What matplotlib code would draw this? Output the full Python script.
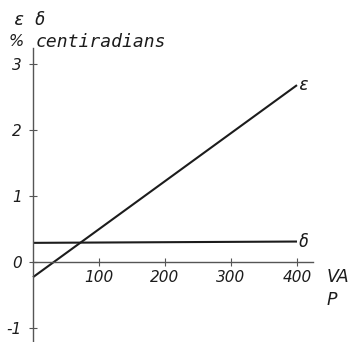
import matplotlib
matplotlib.use("Agg")
import matplotlib.pyplot as plt

# Apparent power P in VA, and the errors in % / centiradians
va = [0, 400]
epsilon = [-0.23, 2.68]
delta = [0.29, 0.31]

x_ticks = [100, 200, 300, 400]
x_tick_labels = ["100", "200", "300", "400"]
y_ticks = [-1, 0, 1, 2, 3]
y_tick_labels = ["-1", "0", "1", "2", "3"]

W, H = 353, 342
fig = plt.figure(figsize=(W / 100, H / 100), dpi=100)
ax = fig.add_axes([0, 0, 1, 1])

# pixel mapping: x_px = 33 + 0.66 * P ; y_px(from top) = 262 - 66 * value
ax.set_xlim(-33 / 0.66, (W - 33) / 0.66)
ax.set_ylim((262 - H) / 66, 262 / 66)

ink = "#1c1c1c"
axis_c = "#555555"
sans = dict(family="DejaVu Sans", style="oblique", color=ink)
mono = dict(family="DejaVu Sans Mono", style="oblique", color=ink)

ax.plot(va, epsilon, color=ink, lw=1.5, solid_capstyle="butt")
ax.plot(va, delta, color=ink, lw=1.5, solid_capstyle="butt")

for s in ("top", "right"):
    ax.spines[s].set_visible(False)
ax.spines["left"].set_position(("data", 0))
ax.spines["bottom"].set_position(("data", 0))
ax.spines["left"].set_bounds((262 - H) / 66, (262 - 48) / 66)
ax.spines["bottom"].set_bounds(0, (313 - 33) / 0.66)
for s in ("left", "bottom"):
    ax.spines[s].set_color(axis_c)
    ax.spines[s].set_linewidth(1.0)

ax.set_xticks(x_ticks)
ax.set_xticklabels(x_tick_labels)
ax.set_yticks(y_ticks)
ax.set_yticklabels(y_tick_labels)
ax.tick_params(direction="inout", length=6, width=0.8, color=axis_c)
ax.tick_params(axis="x", pad=3)
ax.tick_params(axis="y", pad=5)
for lab in ax.get_xticklabels() + ax.get_yticklabels():
    lab.set_family("DejaVu Sans")
    lab.set_fontstyle("oblique")
    lab.set_fontsize(11)
    lab.set_color(ink)
ax.patch.set_alpha(0)

# curve labels
ax.text(402, epsilon[-1], "ε", fontsize=12, va="center", ha="left", **mono)
ax.text(402, delta[-1], "δ", fontsize=12, va="center", ha="left", **mono)

# axis titles
ax.text(327 / W, 1 - 277 / H, "VA", transform=fig.transFigure, fontsize=12.5,
        va="center", ha="left", **sans)
ax.text(327 / W, 1 - 300 / H, "P", transform=fig.transFigure, fontsize=12.5,
        va="center", ha="left", **sans)
ax.text(14 / W, 1 - 20 / H, "ε δ", transform=fig.transFigure, fontsize=12.5,
        va="center", ha="left", **mono)
ax.text(9 / W, 1 - 42 / H, "%", transform=fig.transFigure, fontsize=11.5,
        va="center", ha="left", **sans)
ax.text(36 / W, 1 - 42 / H, "centiradians", transform=fig.transFigure,
        fontsize=13, va="center", ha="left", **mono)

fig.savefig("out.png", dpi=100, facecolor="white")
